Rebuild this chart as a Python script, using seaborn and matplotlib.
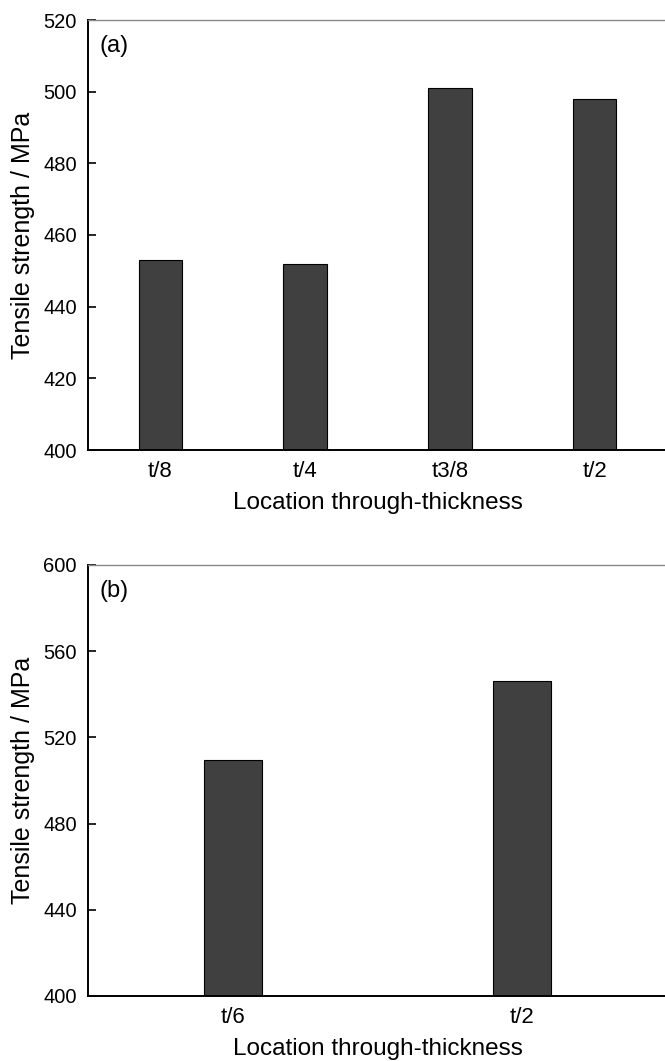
import matplotlib
matplotlib.use("Agg")
import matplotlib.pyplot as plt
import seaborn as sns
import pandas as pd

# data
loc_a = ["t/8", "t/4", "t3/8", "t/2"]
uts_a = [453, 452, 501, 498]
yticks_a = [400, 420, 440, 460, 480, 500, 520]

loc_b = ["t/6", "t/2"]
uts_b = [509.5, 546]
yticks_b = [400, 440, 480, 520, 560, 600]

sns.set_style("ticks")
plt.rcParams['font.family'] = ['Liberation Sans', 'DejaVu Sans']
plt.rcParams['text.color'] = 'black'
plt.rcParams['axes.labelcolor'] = 'black'
plt.rcParams['xtick.color'] = 'black'
plt.rcParams['ytick.color'] = 'black'

fig = plt.figure(figsize=(6.65, 10.61), dpi=100)
ax_a = fig.add_axes([88 / 665, 611 / 1061, 579 / 665, 430 / 1061])
ax_b = fig.add_axes([88 / 665, 65 / 1061, 579 / 665, 431 / 1061])

panels = [
    (ax_a, loc_a, uts_a, yticks_a, 0.3, "(a)"),
    (ax_b, loc_b, uts_b, yticks_b, 0.2, "(b)"),
]

for ax, locs, vals, yt, w, tag in panels:
    df = pd.DataFrame({"loc": locs, "uts": vals})
    sns.barplot(data=df, x="loc", y="uts", color="#404040", width=w,
                edgecolor="black", linewidth=0.8, saturation=1, ax=ax)
    ax.set_xlim(-0.5, len(locs) - 0.5)
    ax.set_ylim(yt[0], yt[-1])
    ax.set_yticks(yt)
    ax.set_ylabel("Tensile strength / MPa", fontsize=18, labelpad=6)
    ax.set_xlabel("Location through-thickness", fontsize=17.5, labelpad=7)
    ax.tick_params(axis="both", direction="in", length=6, width=1.2,
                   color="black", labelcolor="black", labelsize=14.5, pad=8)
    ax.tick_params(axis="x", labelsize=16, pad=8)
    ax.spines["right"].set_visible(False)
    ax.spines["top"].set_color("#888888")
    ax.spines["top"].set_linewidth(1.0)
    for s in ("left", "bottom"):
        ax.spines[s].set_color("black")
        ax.spines[s].set_linewidth(1.4)
    for b in ax.patches:
        b.set_zorder(1)
    ax.text(12 / 579, 0.965, tag, transform=ax.transAxes, fontsize=17,
            ha="left", va="top")

fig.savefig("out.png", dpi=100)
